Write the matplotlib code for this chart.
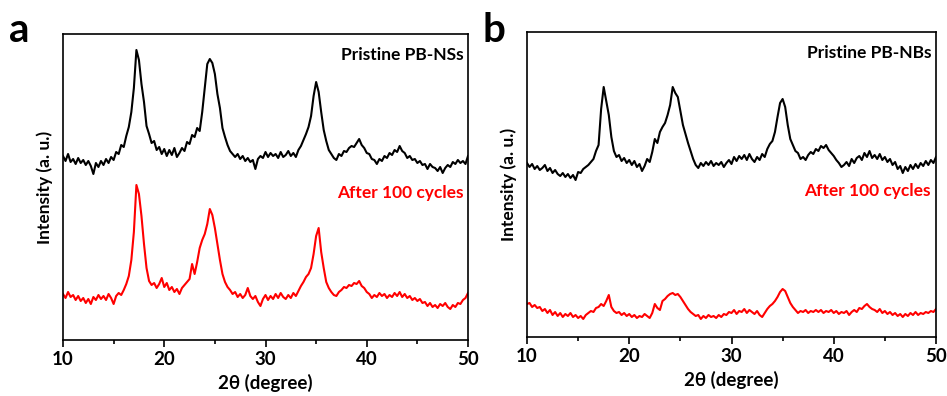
"""XRD patterns of PB-NSs and PB-NBs before and after 100 cycles."""

import matplotlib
matplotlib.use("Agg")
import matplotlib.pyplot as plt
import numpy as np
from matplotlib.ticker import MultipleLocator

plt.rcParams["font.family"] = ["Lato", "DejaVu Sans"]

# scan grid, 0.25 degree steps from 10 to 50 (161 points)
TWO_THETA = np.arange(10.0, 50.0001, 0.25)

# panel a: PB-NSs (intensity in arbitrary units)
NS_PRISTINE = [
    184, 179, 186, 178, 181, 176, 182, 177,
    180, 175, 179, 174, 166, 177, 173, 179,
    175, 181, 177, 183, 180, 188, 186, 195,
    193, 204, 213, 228, 252, 290, 280, 256,
    238, 214, 206, 197, 199, 190, 193, 186,
    191, 184, 190, 185, 192, 183, 187, 192,
    189, 198, 196, 205, 203, 212, 209, 228,
    252, 276, 281, 277, 266, 246, 232, 212,
    203, 195, 189, 186, 183, 186, 181, 184,
    179, 182, 178, 180, 171, 181, 184, 182,
    188, 183, 187, 184, 186, 182, 188, 183,
    185, 189, 184, 187, 183, 190, 194, 200,
    206, 213, 224, 244, 258, 248, 228, 210,
    199, 190, 186, 182, 180, 186, 184, 189,
    188, 192, 194, 193, 197, 201, 195, 192,
    187, 186, 181, 180, 176, 181, 179, 184,
    182, 187, 185, 190, 188, 194, 189, 187,
    182, 184, 180, 181, 177, 179, 175, 176,
    171, 176, 173, 172, 169, 173, 167, 172,
    175, 173, 178, 176, 180, 177, 179, 176,
    184,
]
NS_CYCLED = [
    46, 42, 48, 43, 45, 40, 44, 39,
    42, 37, 41, 36, 43, 40, 45, 41,
    44, 40, 46, 42, 36, 44, 47, 45,
    50, 56, 64, 80, 108, 155, 146, 124,
    96, 72, 59, 55, 57, 52, 56, 62,
    53, 57, 50, 53, 48, 51, 46, 52,
    55, 58, 61, 76, 66, 78, 92, 100,
    106, 116, 131, 125, 112, 96, 80, 66,
    58, 53, 50, 46, 48, 43, 46, 42,
    45, 52, 44, 41, 44, 38, 34, 41,
    45, 40, 44, 41, 46, 42, 47, 43,
    41, 45, 42, 47, 44, 49, 54, 58,
    63, 66, 72, 86, 104, 112, 88, 72,
    58, 52, 48, 45, 44, 48, 50, 53,
    52, 55, 54, 57, 56, 59, 54, 52,
    48, 46, 42, 45, 43, 47, 44, 46,
    42, 45, 43, 47, 44, 48, 43, 46,
    42, 44, 40, 42, 39, 41, 37, 38,
    34, 37, 33, 35, 32, 36, 34, 37,
    33, 31, 35, 33, 37, 36, 40, 42,
    47,
]

# panel b: PB-NBs
NB_PRISTINE = [
    174, 170, 173, 168, 171, 167, 169, 172,
    166, 169, 164, 167, 163, 161, 164, 160,
    163, 159, 162, 157, 165, 164, 168, 170,
    172, 175, 178, 186, 192, 228, 250, 236,
    222, 200, 186, 180, 182, 176, 179, 174,
    177, 172, 176, 170, 173, 166, 171, 178,
    175, 185, 198, 194, 205, 210, 214, 222,
    232, 250, 244, 240, 226, 212, 203, 194,
    186, 178, 172, 169, 174, 171, 175, 172,
    176, 171, 174, 172, 175, 170, 174, 177,
    173, 180, 176, 181, 178, 182, 177, 183,
    178, 175, 180, 177, 183, 180, 188, 193,
    196, 205, 220, 234, 238, 230, 212, 198,
    192, 186, 184, 178, 180, 177, 182, 185,
    183, 188, 186, 191, 189, 192, 187, 184,
    181, 177, 174, 170, 172, 175, 171, 178,
    174, 179, 181, 177, 184, 180, 186, 179,
    182, 178, 183, 177, 180, 175, 178, 172,
    175, 168, 171, 164, 170, 166, 172, 168,
    173, 169, 174, 171, 176, 172, 177, 174,
    180,
]
NB_CYCLED = [
    33, 34, 30, 32, 29, 30, 26, 28,
    24, 27, 22, 25, 21, 24, 20, 23,
    21, 24, 20, 22, 19, 21, 18, 22,
    24, 26, 25, 29, 30, 33, 31, 36,
    42, 30, 26, 24, 25, 22, 24, 21,
    23, 20, 22, 19, 21, 20, 23, 21,
    19, 24, 33, 29, 27, 36, 38, 41,
    43, 44, 42, 43, 40, 36, 32, 28,
    25, 23, 21, 22, 18, 21, 19, 22,
    20, 21, 19, 22, 20, 23, 22, 25,
    24, 27, 23, 26, 25, 28, 24, 27,
    25, 23, 26, 22, 20, 24, 28, 31,
    33, 36, 40, 45, 48, 46, 40, 34,
    30, 27, 24, 26, 25, 27, 24, 26,
    25, 27, 25, 27, 24, 26, 25, 27,
    24, 26, 23, 25, 24, 26, 22, 25,
    27, 25, 29, 28, 31, 33, 30, 28,
    27, 25, 28, 24, 26, 23, 25, 22,
    24, 21, 23, 20, 23, 21, 24, 22,
    25, 22, 24, 23, 25, 24, 26, 25,
    28,
]

PANELS = [
    ("a", "Pristine PB-NSs", NS_PRISTINE, NS_CYCLED, [63, 56, 405, 306], 9),
    ("b", "Pristine PB-NBs", NB_PRISTINE, NB_CYCLED, [527, 59, 409, 305], 482),
]

W, H = 947, 396
fig = plt.figure(figsize=(W / 100, H / 100), dpi=100, facecolor="white")

for letter, label, pristine, cycled, (left, bottom, width, height), letter_x in PANELS:
    ax = fig.add_axes([left / W, bottom / H, width / W, height / H])
    ax.plot(TWO_THETA, pristine, color="black", linewidth=1.5)
    ax.plot(TWO_THETA, cycled, color="#ff0000", linewidth=1.5)
    ax.set_xlim(10, 50)
    ax.set_ylim(0, height)

    ax.xaxis.set_major_locator(MultipleLocator(10))
    ax.xaxis.set_minor_locator(MultipleLocator(5))
    ax.tick_params(axis="x", which="major", direction="out", length=5, width=1.2,
                   labelsize=13.5, pad=3)
    ax.tick_params(axis="x", which="minor", direction="out", length=3, width=1.2)
    ax.set_yticks([])
    for lab in ax.get_xticklabels():
        lab.set_fontweight("bold")
    for spine in ax.spines.values():
        spine.set_linewidth(1.2)

    ax.set_xlabel("2θ (degree)", fontsize=13.5, fontweight="bold", labelpad=4)
    ax.set_ylabel("Intensity (a. u.)", fontsize=12.5, fontweight="bold", labelpad=7)

    ax.text(0.988, 0.93, label, transform=ax.transAxes, ha="right", va="center",
            fontsize=12.5, fontweight="bold", color="black")
    ax.text(0.988, 0.48, "After 100 cycles", transform=ax.transAxes, ha="right",
            va="center", fontsize=12.5, fontweight="bold", color="#ff0000")

    fig.text(letter_x / W, 1 - 31 / H, letter, ha="left", va="center",
             fontsize=29, fontweight="bold")

fig.savefig("out.png", dpi=100, facecolor="white")
